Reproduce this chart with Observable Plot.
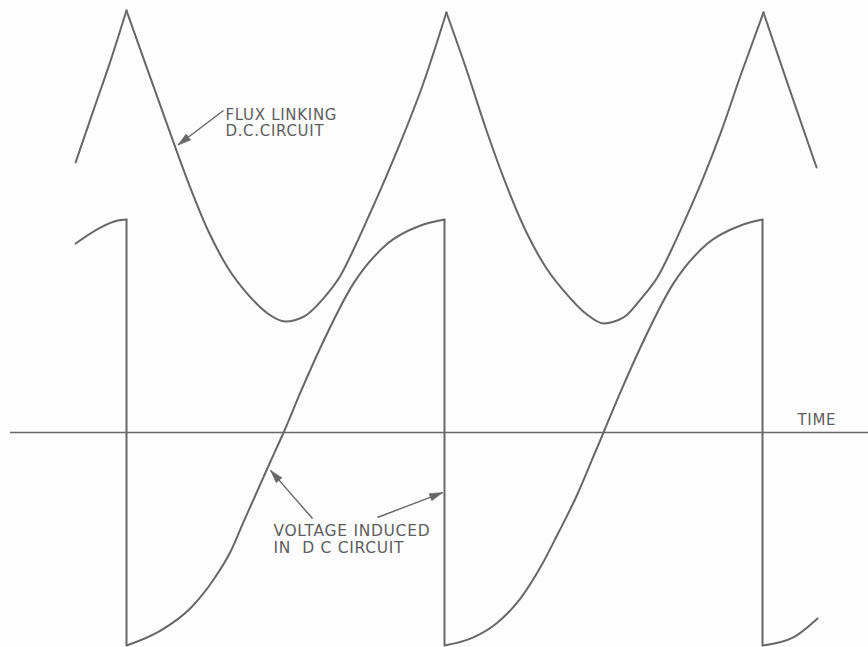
<!DOCTYPE html>
<html><head><meta charset="utf-8">
<script src="https://cdn.jsdelivr.net/npm/d3@7"></script>
<script src="https://cdn.jsdelivr.net/npm/@observablehq/plot@0.6"></script>
<style>
html,body{margin:0;padding:0;background:#fdfdfd;}
#chart svg text{letter-spacing:0.7px;}
</style></head><body><div id="chart"></div>
<script>
// ---- data (time units: one cycle = 10; values: voltage peak = 1) ----
const fluxLeadT = [-1.60, -1.04, -0.50, 0];
const fluxLeadV = [1.268, 1.512, 1.746, 1.981];
const flux1T = [0, 0.66, 1.29, 1.92, 2.55, 3.18, 3.81, 4.43, 5.00, 5.63, 6.16, 6.73, 7.20, 7.67, 8.14, 8.68, 9.31, 10.06];
const flux1V = [1.981, 1.704, 1.441, 1.183, 0.953, 0.775, 0.650, 0.560, 0.521, 0.549, 0.624, 0.737, 0.878, 1.033, 1.192, 1.385, 1.629, 1.972];
const flux2T = [10.06, 10.69, 11.32, 11.95, 12.58, 13.21, 13.84, 14.47, 15.00, 15.63, 16.16, 16.73, 17.20, 17.67, 18.14, 18.68, 19.31, 20.03];
const flux2V = [1.972, 1.704, 1.418, 1.160, 0.939, 0.770, 0.650, 0.555, 0.512, 0.540, 0.624, 0.737, 0.878, 1.033, 1.197, 1.404, 1.676, 1.972];
const fluxTailT = [20.03, 20.79, 21.70];
const fluxTailV = [1.972, 1.638, 1.244];

const voltLeadT = [-1.60, -0.82, -0.28, 0];
const voltLeadV = [0.887, 0.962, 0.995, 1.0];
const volt1T = [0, 1.07, 2.01, 2.74, 3.27, 3.68, 4.53, 4.94, 5.47, 6.10, 7.14, 8.21, 9.25, 10];
const volt1V = [-1, -0.93, -0.825, -0.69, -0.56, -0.42, -0.135, 0, 0.188, 0.399, 0.700, 0.887, 0.972, 1.0];
const volt2T = [10, 10.91, 11.67, 12.39, 13.02, 13.55, 14.18, 14.69, 15.0, 15.53, 16.16, 17.20, 18.27, 19.31, 20];
const volt2V = [-1, -0.962, -0.892, -0.779, -0.632, -0.48, -0.29, -0.11, 0, 0.188, 0.399, 0.700, 0.887, 0.972, 1.0];
const voltTailT = [20, 20.97, 21.73];
const voltTailV = [-1, -0.962, -0.873];

const jumpTimes = [0, 10, 20];

const labels = ["FLUX LINKING\nD.C.CIRCUIT", "VOLTAGE INDUCED\nIN  D C CIRCUIT", "TIME"];
const arrowFrom = [[3.05, 1.512], [5.85, -0.404], [7.89, -0.399]];
const arrowTo   = [[1.62, 1.35], [4.53, -0.178], [9.94, -0.282]];

// ---- build tables ----
const segs = [
  ["fluxLead", fluxLeadT, fluxLeadV], ["flux1", flux1T, flux1V],
  ["flux2", flux2T, flux2V], ["fluxTail", fluxTailT, fluxTailV],
  ["voltLead", voltLeadT, voltLeadV], ["volt1", volt1T, volt1V],
  ["volt2", volt2T, volt2V], ["voltTail", voltTailT, voltTailV]
];
const rows = segs.flatMap(([seg, T, V]) => T.map((t, i) => ({seg, t, v: V[i]})));
const arrows = arrowFrom.map((f, i) => ({t1: f[0], v1: f[1], t2: arrowTo[i][0], v2: arrowTo[i][1]}));

const xDomain = [0, 20], xRange = [126, 762];
const yDomain = [-1, 1], yRange = [645, 219];
const xs = d3.scaleLinear(xDomain, xRange), ys = d3.scaleLinear(yDomain, yRange);

const ink = "#676767";

function headSymbol(a) {
  const dx = xs(a.t2) - xs(a.t1), dy = ys(a.v2) - ys(a.v1);
  const len = Math.hypot(dx, dy), ux = dx / len, uy = dy / len;
  const L = 13, W = 3.8;
  return {draw(ctx) {
    ctx.moveTo(0, 0);
    ctx.lineTo(-ux * L - uy * W, -uy * L + ux * W);
    ctx.lineTo(-ux * L + uy * W, -uy * L - ux * W);
    ctx.closePath();
  }};
}

const chart = Plot.plot({
  width: 868,
  height: 647,
  margin: 0,
  x: {domain: xDomain, range: xRange, axis: null},
  y: {domain: yDomain, range: yRange, axis: null},
  style: {fontFamily: "DejaVu Sans", background: "#fdfdfd", color: ink},
  marks: [
    Plot.ruleY([0], {x1: -3.65, x2: 23.4, stroke: ink, strokeWidth: 1.6}),
    Plot.ruleX(jumpTimes, {x: d => d, y1: -1, y2: 1, stroke: ink, strokeWidth: 2}),
    Plot.line(rows, {x: "t", y: "v", z: "seg", curve: "monotone-x", stroke: ink, strokeWidth: 2}),
    Plot.link(arrows, {x1: "t1", y1: "v1", x2: "t2", y2: "v2", stroke: ink, strokeWidth: 1.4}),
    ...arrows.map(a => Plot.dot([a], {x: "t2", y: "v2", symbol: headSymbol(a), fill: ink, stroke: ink, strokeWidth: 0.6})),
    Plot.text([labels[0]], {x: 3.11, y: 1.39, textAnchor: "start", lineAnchor: "bottom", lineHeight: 1.1, fontSize: 15, fill: "#5e5e5e"}),
    Plot.text([labels[1]], {x: 4.62, y: -0.568, textAnchor: "start", lineAnchor: "bottom", lineHeight: 1.15, fontSize: 15.5, fill: "#5e5e5e"}),
    Plot.text([labels[2]], {x: 21.10, y: 0.033, textAnchor: "start", lineAnchor: "bottom", fontSize: 15, fill: "#5e5e5e"})
  ]
});
document.getElementById("chart").appendChild(chart);
</script>
</body></html>
